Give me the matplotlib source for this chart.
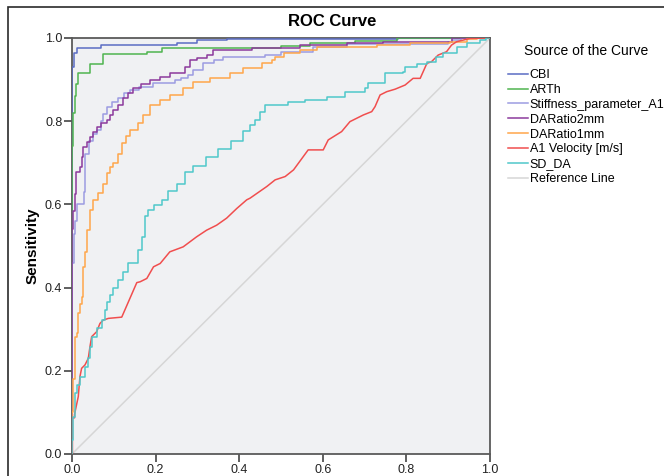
import matplotlib
matplotlib.use('Agg')
import matplotlib.pyplot as plt
from matplotlib.patches import Rectangle

plt.rcParams['font.family'] = ['Liberation Sans', 'DejaVu Sans']

# series names and colours, in legend order
names = ['CBI', 'ARTh', 'Stiffness_parameter_A1', 'DARatio2mm', 'DARatio1mm',
         'A1 Velocity [m/s]', 'SD_DA']
colors = ['#5a6cc4', '#4fb44f', '#9c9ce2', '#8c3a9c', '#ffa64a', '#f04e4e', '#4fc8ca']

# ROC points (1 - specificity, sensitivity)
cbi_x = [0, 0, 0.005, 0.012, 0.07, 0.25, 0.30, 0.37, 0.78, 1.0]
cbi_y = [0, 0.93, 0.965, 0.975, 0.983, 0.989, 0.994, 0.998, 1.0, 1.0]

arth_x = [0, 0, 0.003, 0.006, 0.010, 0.015, 0.043, 0.073, 0.18, 0.215, 0.50, 0.57,
          0.677, 0.777, 1.0]
arth_y = [0, 0.74, 0.82, 0.86, 0.89, 0.915, 0.937, 0.961, 0.967, 0.975, 0.981, 0.987,
          0.993, 1.0, 1.0]

stiff_x = [0, 0, 0.005, 0.008, 0.013, 0.028, 0.031, 0.040, 0.050, 0.060, 0.069, 0.073,
           0.083, 0.095, 0.11, 0.125, 0.139, 0.16, 0.194, 0.246, 0.26, 0.278, 0.29,
           0.314, 0.34, 0.362, 0.462, 0.50, 0.577, 0.657, 0.90, 0.91, 0.93, 1.0]
stiff_y = [0, 0.46, 0.53, 0.56, 0.60, 0.63, 0.72, 0.753, 0.77, 0.78, 0.80, 0.817,
           0.835, 0.845, 0.856, 0.868, 0.875, 0.882, 0.892, 0.90, 0.905, 0.911, 0.923,
           0.939, 0.947, 0.955, 0.959, 0.967, 0.979, 0.986, 0.99, 0.995, 1.0, 1.0]

dar2_x = [0, 0, 0.003, 0.006, 0.010, 0.018, 0.023, 0.027, 0.035, 0.043, 0.050, 0.059,
          0.069, 0.083, 0.092, 0.099, 0.11, 0.123, 0.135, 0.146, 0.165, 0.187, 0.21,
          0.234, 0.27, 0.282, 0.30, 0.322, 0.338, 0.43, 0.545, 0.657, 0.745, 0.91, 1.0]
dar2_y = [0, 0.54, 0.585, 0.625, 0.677, 0.69, 0.715, 0.739, 0.75, 0.763, 0.775, 0.787,
          0.795, 0.803, 0.815, 0.827, 0.84, 0.855, 0.867, 0.879, 0.89, 0.899, 0.907,
          0.915, 0.93, 0.947, 0.953, 0.959, 0.971, 0.975, 0.983, 0.987, 0.991, 1.0, 1.0]

dar1_x = [0, 0, 0.003, 0.008, 0.011, 0.015, 0.020, 0.023, 0.027, 0.031, 0.035, 0.043,
          0.051, 0.063, 0.075, 0.083, 0.091, 0.099, 0.11, 0.119, 0.13, 0.139, 0.159,
          0.17, 0.187, 0.211, 0.234, 0.266, 0.29, 0.33, 0.378, 0.41, 0.454, 0.478,
          0.486, 0.506, 0.545, 0.585, 0.729, 0.809, 0.904, 0.944, 0.97, 1.0]
dar1_y = [0, 0.10, 0.18, 0.282, 0.29, 0.339, 0.36, 0.378, 0.45, 0.486, 0.538, 0.587,
          0.61, 0.627, 0.65, 0.675, 0.69, 0.699, 0.72, 0.747, 0.765, 0.779, 0.795,
          0.815, 0.839, 0.851, 0.863, 0.879, 0.895, 0.903, 0.915, 0.927, 0.939, 0.947,
          0.955, 0.963, 0.971, 0.979, 0.983, 0.989, 0.991, 0.997, 1.0, 1.0]

a1v_x = [0, 0.001, 0.001, 0.006, 0.006, 0.015, 0.019, 0.023, 0.031, 0.039, 0.043, 0.047,
         0.059, 0.067, 0.075, 0.087, 0.119, 0.155, 0.163, 0.179, 0.195, 0.211, 0.234,
         0.266, 0.298, 0.322, 0.346, 0.37, 0.394, 0.418, 0.426, 0.466, 0.486, 0.51,
         0.53, 0.565, 0.601, 0.613, 0.645, 0.665, 0.697, 0.717, 0.725, 0.737, 0.753,
         0.773, 0.797, 0.816, 0.833, 0.849, 0.86, 0.876, 0.896, 0.908, 0.92, 0.952, 1.0]
a1v_y = [0, 0, 0.087, 0.087, 0.095, 0.138, 0.186, 0.206, 0.214, 0.23, 0.258, 0.282,
         0.294, 0.314, 0.322, 0.326, 0.329, 0.412, 0.414, 0.422, 0.45, 0.458, 0.486,
         0.498, 0.522, 0.538, 0.55, 0.567, 0.59, 0.611, 0.615, 0.643, 0.659, 0.667,
         0.683, 0.731, 0.731, 0.755, 0.775, 0.799, 0.815, 0.823, 0.835, 0.863, 0.871,
         0.877, 0.887, 0.903, 0.903, 0.939, 0.943, 0.959, 0.967, 0.983, 0.991, 0.999, 1.0]

sdda_x = [0, 0.001, 0.003, 0.007, 0.011, 0.019, 0.031, 0.039, 0.043, 0.047, 0.059,
          0.071, 0.079, 0.083, 0.091, 0.099, 0.111, 0.123, 0.135, 0.159, 0.167, 0.175,
          0.183, 0.195, 0.215, 0.23, 0.25, 0.27, 0.29, 0.32, 0.35, 0.38, 0.41, 0.426,
          0.438, 0.45, 0.462, 0.517, 0.557, 0.609, 0.653, 0.70, 0.709, 0.749, 0.793,
          0.797, 0.825, 0.849, 0.872, 0.888, 0.92, 0.944, 0.976, 0.99, 1.0]
sdda_y = [0, 0.034, 0.09, 0.146, 0.166, 0.186, 0.21, 0.23, 0.258, 0.282, 0.302,
          0.322, 0.346, 0.366, 0.382, 0.398, 0.418, 0.438, 0.458, 0.49, 0.522, 0.571,
          0.587, 0.599, 0.611, 0.633, 0.649, 0.677, 0.693, 0.713, 0.733, 0.753, 0.777,
          0.791, 0.803, 0.823, 0.839, 0.847, 0.852, 0.859, 0.869, 0.879, 0.891, 0.915,
          0.919, 0.931, 0.9375, 0.943, 0.955, 0.963, 0.979, 0.987, 0.995, 1.0, 1.0]

curves = [(cbi_x, cbi_y), (arth_x, arth_y), (stiff_x, stiff_y), (dar2_x, dar2_y),
          (dar1_x, dar1_y), (a1v_x, a1v_y), (sdda_x, sdda_y)]

fig = plt.figure(figsize=(6.64, 4.76), dpi=100)
ax = fig.add_axes([72 / 664, 22 / 476, 418 / 664, 416 / 476])
ax.set_facecolor('#f0f1f3')

for (xs, ys), name, c in zip(curves, names, colors):
    if name.startswith('A1'):
        ax.plot(xs, ys, color=c, lw=1.1, label=name, zorder=3)
    else:
        ax.plot(xs, ys, color=c, lw=1.1, label=name, drawstyle='steps-post', zorder=3)
ax.plot([0, 1], [0, 1], color='#d6d6d6', lw=1.1, label='Reference Line', zorder=2)

ax.set_xlim(0, 1)
ax.set_ylim(0, 1)
ticks = [0.0, 0.2, 0.4, 0.6, 0.8, 1.0]
ax.set_xticks(ticks)
ax.set_yticks(ticks)
ax.set_xticklabels(['%.1f' % t for t in ticks])
ax.set_yticklabels(['%.1f' % t for t in ticks])
ax.tick_params(direction='out', length=6, width=1.2, color='#444444',
               labelsize=9, labelcolor='#222222', pad=1)
for s in ax.spines.values():
    s.set_color('#5a5a5a')
    s.set_linewidth(1.3)

ax.set_ylabel('Sensitivity', fontsize=11, fontweight='bold', labelpad=4)
fig.text(0.5, 1 - 22 / 476, 'ROC Curve', fontsize=12, fontweight='bold',
         ha='center', va='center')

leg = ax.legend(loc='upper left', bbox_to_anchor=(508 / 664, 1 - 44 / 476),
                bbox_transform=fig.transFigure, frameon=False, fontsize=9,
                title='Source of the Curve', title_fontsize=10,
                handlelength=1.6, handletextpad=0.15, labelspacing=0.23,
                borderpad=0, borderaxespad=0)
leg._legend_box.sep = 8

# outer frame, open to the right and bottom like the cropped original
fig.patches.append(Rectangle((8 / 664, -0.2), 1.2, 1.2 - 7 / 476,
                             transform=fig.transFigure, fill=False,
                             edgecolor='#2a2a2a', lw=1.2, clip_on=False))

fig.savefig('out.png', dpi=100)
